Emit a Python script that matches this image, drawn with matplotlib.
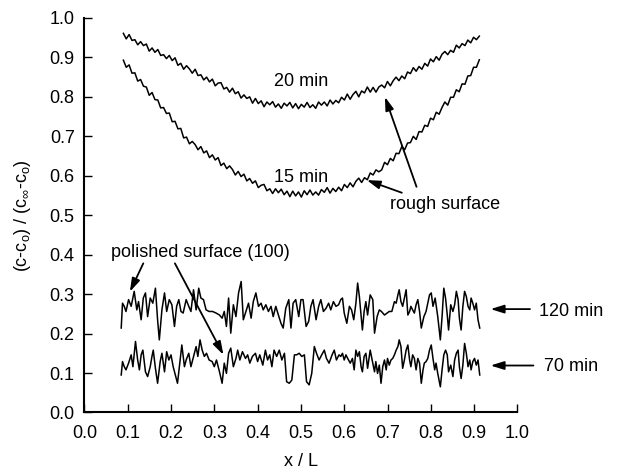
import numpy as np
import matplotlib
matplotlib.use("Agg")
import matplotlib.pyplot as plt

plt.rcParams['font.family'] = ['Liberation Sans', 'DejaVu Sans']
plt.rcParams['mathtext.fontset'] = 'custom'
plt.rcParams['mathtext.rm'] = 'Liberation Sans'
plt.rcParams['mathtext.it'] = 'Liberation Sans:italic'

# ---------------- data ----------------
x_rough = np.linspace(0.09, 0.912, 125)

y_20min = [
    .961, .947, .958, .943, .945, .932, .940, .930, .934, .916, .924, .913, .920, .905, .907,
    .897, .905, .892, .899, .880, .885, .870, .879, .871, .860, .870, .854, .856, .843, .850,
    .838, .845, .828, .835, .836, .820, .824, .812, .822, .808, .813, .797, .805, .796, .800,
    .784, .796, .783, .790, .775, .787, .780, .788, .774, .782, .771, .784, .777, .786, .772,
    .783, .770, .781, .774, .786, .773, .780, .771, .787, .779, .787, .777, .792, .782, .791,
    .785, .799, .792, .807, .794, .806, .814, .800, .815, .810, .825, .812, .824, .812, .825,
    .830, .823, .839, .828, .841, .850, .841, .853, .846, .863, .859, .874, .865, .877, .870,
    .885, .878, .896, .889, .902, .893, .908, .915, .907, .918, .913, .931, .924, .935, .930,
    .944, .937, .951, .945, .954]

y_15min = [
    .893, .875, .881, .860, .861, .840, .844, .827, .825, .804, .811, .793, .792, .772, .773,
    .758, .759, .737, .738, .719, .720, .696, .698, .681, .687, .679, .666, .674, .658, .663,
    .646, .653, .640, .646, .626, .632, .618, .625, .616, .602, .611, .598, .604, .587, .593,
    .581, .587, .570, .576, .578, .562, .567, .555, .567, .557, .566, .552, .561, .547, .561,
    .549, .559, .546, .562, .552, .564, .551, .559, .551, .565, .558, .570, .556, .568, .560,
    .571, .562, .578, .570, .582, .572, .586, .594, .583, .595, .590, .607, .602, .615, .610,
    .615, .634, .628, .644, .638, .657, .656, .674, .666, .683, .684, .700, .692, .712, .711,
    .728, .725, .746, .742, .761, .756, .773, .787, .779, .799, .799, .818, .813, .833, .832,
    .853, .854, .875, .875, .894]

x_120min = [
    0.085, 0.088, 0.092, 0.096, 0.102, 0.108, 0.112, 0.115, 0.121, 0.125, 0.131, 0.136, 0.141,
    0.146, 0.152, 0.158, 0.164, 0.169, 0.173, 0.179, 0.185, 0.190, 0.196, 0.202, 0.208, 0.213,
    0.218, 0.223, 0.228, 0.235, 0.241, 0.246, 0.252, 0.258, 0.264, 0.269, 0.275, 0.281, 0.288,
    0.296, 0.304, 0.312, 0.318, 0.323, 0.328, 0.333, 0.338, 0.344, 0.350, 0.356, 0.362, 0.367,
    0.373, 0.379, 0.385, 0.390, 0.396, 0.402, 0.408, 0.413, 0.419, 0.425, 0.431, 0.436, 0.442,
    0.448, 0.454, 0.459, 0.465, 0.472, 0.477, 0.482, 0.488, 0.495, 0.500, 0.505, 0.512, 0.518,
    0.523, 0.528, 0.535, 0.541, 0.546, 0.552, 0.558, 0.564, 0.569, 0.575, 0.581, 0.587, 0.592,
    0.596, 0.600, 0.606, 0.612, 0.617, 0.622, 0.627, 0.631, 0.635, 0.639, 0.642, 0.646, 0.650,
    0.654, 0.660, 0.666, 0.670, 0.676, 0.681, 0.686, 0.693, 0.699, 0.704, 0.710, 0.716, 0.720,
    0.724, 0.727, 0.731, 0.735, 0.739, 0.743, 0.747, 0.751, 0.754, 0.758, 0.762, 0.766, 0.770,
    0.774, 0.778, 0.784, 0.789, 0.793, 0.797, 0.801, 0.805, 0.810, 0.816, 0.822, 0.826, 0.830,
    0.834, 0.838, 0.841, 0.846, 0.851, 0.855, 0.859, 0.863, 0.866, 0.870, 0.874, 0.878, 0.882,
    0.886, 0.890, 0.893, 0.897, 0.901, 0.905, 0.909, 0.913]
y_120min = [
    0.214, 0.277, 0.269, 0.256, 0.286, 0.269, 0.290, 0.307, 0.260, 0.281, 0.235, 0.290, 0.303,
    0.243, 0.290, 0.277, 0.315, 0.235, 0.184, 0.260, 0.303, 0.256, 0.286, 0.273, 0.218, 0.269,
    0.286, 0.256, 0.252, 0.286, 0.269, 0.256, 0.311, 0.260, 0.315, 0.290, 0.286, 0.260, 0.256,
    0.256, 0.252, 0.247, 0.239, 0.256, 0.218, 0.290, 0.201, 0.273, 0.243, 0.303, 0.332, 0.235,
    0.256, 0.277, 0.239, 0.281, 0.303, 0.269, 0.277, 0.260, 0.273, 0.256, 0.269, 0.243, 0.269,
    0.247, 0.226, 0.214, 0.264, 0.286, 0.214, 0.277, 0.286, 0.243, 0.286, 0.286, 0.218, 0.231,
    0.269, 0.286, 0.235, 0.269, 0.286, 0.256, 0.264, 0.277, 0.260, 0.281, 0.269, 0.273, 0.286,
    0.290, 0.252, 0.226, 0.269, 0.260, 0.235, 0.277, 0.328, 0.294, 0.247, 0.209, 0.256, 0.281,
    0.247, 0.298, 0.286, 0.201, 0.243, 0.260, 0.256, 0.247, 0.252, 0.256, 0.256, 0.281, 0.277,
    0.298, 0.311, 0.281, 0.269, 0.290, 0.311, 0.247, 0.256, 0.269, 0.260, 0.252, 0.273, 0.286,
    0.256, 0.214, 0.243, 0.256, 0.277, 0.298, 0.303, 0.269, 0.290, 0.243, 0.184, 0.243, 0.315,
    0.290, 0.247, 0.209, 0.273, 0.256, 0.273, 0.307, 0.286, 0.239, 0.209, 0.269, 0.307, 0.294,
    0.269, 0.260, 0.290, 0.277, 0.260, 0.277, 0.235, 0.214]

x_70min = [
    0.085, 0.088, 0.092, 0.096, 0.102, 0.108, 0.112, 0.118, 0.123, 0.127, 0.131, 0.135, 0.141,
    0.146, 0.152, 0.156, 0.159, 0.164, 0.169, 0.175, 0.179, 0.185, 0.190, 0.195, 0.200, 0.205,
    0.210, 0.215, 0.221, 0.225, 0.231, 0.235, 0.241, 0.246, 0.252, 0.258, 0.262, 0.267, 0.272,
    0.277, 0.282, 0.288, 0.295, 0.300, 0.305, 0.312, 0.318, 0.323, 0.328, 0.333, 0.338, 0.344,
    0.350, 0.354, 0.359, 0.365, 0.372, 0.377, 0.382, 0.388, 0.395, 0.400, 0.405, 0.412, 0.418,
    0.423, 0.428, 0.433, 0.438, 0.444, 0.450, 0.456, 0.462, 0.467, 0.473, 0.479, 0.485, 0.490,
    0.496, 0.502, 0.508, 0.513, 0.519, 0.525, 0.531, 0.536, 0.542, 0.548, 0.554, 0.559, 0.565,
    0.572, 0.577, 0.582, 0.588, 0.592, 0.596, 0.600, 0.604, 0.608, 0.614, 0.619, 0.623, 0.627,
    0.631, 0.635, 0.639, 0.642, 0.646, 0.650, 0.654, 0.660, 0.666, 0.670, 0.673, 0.677, 0.681,
    0.685, 0.689, 0.693, 0.697, 0.700, 0.704, 0.708, 0.712, 0.716, 0.720, 0.724, 0.727, 0.731,
    0.735, 0.739, 0.743, 0.747, 0.751, 0.754, 0.758, 0.762, 0.766, 0.770, 0.774, 0.778, 0.782,
    0.785, 0.789, 0.793, 0.797, 0.801, 0.805, 0.809, 0.812, 0.816, 0.822, 0.826, 0.830, 0.834,
    0.838, 0.841, 0.846, 0.851, 0.855, 0.859, 0.863, 0.866, 0.870, 0.874, 0.878, 0.882, 0.886,
    0.890, 0.893, 0.897, 0.901, 0.905, 0.909, 0.913]
y_70min = [
    0.095, 0.129, 0.116, 0.108, 0.125, 0.146, 0.116, 0.180, 0.133, 0.108, 0.146, 0.158, 0.103,
    0.091, 0.116, 0.142, 0.158, 0.112, 0.074, 0.129, 0.150, 0.103, 0.154, 0.133, 0.146, 0.116,
    0.095, 0.074, 0.133, 0.171, 0.116, 0.133, 0.150, 0.116, 0.142, 0.167, 0.142, 0.184, 0.158,
    0.142, 0.150, 0.133, 0.129, 0.116, 0.133, 0.103, 0.074, 0.125, 0.099, 0.150, 0.163, 0.116,
    0.137, 0.158, 0.133, 0.154, 0.137, 0.146, 0.125, 0.142, 0.150, 0.129, 0.146, 0.120, 0.158,
    0.133, 0.146, 0.116, 0.158, 0.142, 0.158, 0.133, 0.150, 0.078, 0.074, 0.082, 0.146, 0.146,
    0.150, 0.142, 0.146, 0.078, 0.070, 0.099, 0.167, 0.150, 0.133, 0.146, 0.158, 0.137, 0.125,
    0.146, 0.158, 0.133, 0.146, 0.142, 0.150, 0.133, 0.146, 0.137, 0.125, 0.137, 0.108, 0.158,
    0.142, 0.154, 0.116, 0.103, 0.142, 0.150, 0.112, 0.158, 0.125, 0.103, 0.129, 0.099, 0.120,
    0.074, 0.116, 0.133, 0.108, 0.137, 0.120, 0.133, 0.137, 0.146, 0.158, 0.167, 0.184, 0.167,
    0.112, 0.133, 0.158, 0.171, 0.133, 0.116, 0.146, 0.137, 0.108, 0.137, 0.125, 0.074, 0.108,
    0.125, 0.129, 0.137, 0.158, 0.171, 0.137, 0.108, 0.125, 0.099, 0.065, 0.108, 0.146, 0.158,
    0.146, 0.103, 0.120, 0.091, 0.133, 0.150, 0.158, 0.116, 0.086, 0.120, 0.175, 0.150, 0.116,
    0.133, 0.108, 0.129, 0.137, 0.120, 0.133, 0.095]

x_ticks = [0.0, 0.1, 0.2, 0.3, 0.4, 0.5, 0.6, 0.7, 0.8, 0.9, 1.0]
y_ticks = [0.0, 0.1, 0.2, 0.3, 0.4, 0.5, 0.6, 0.7, 0.8, 0.9, 1.0]

# ---------------- figure ----------------
fig = plt.figure(figsize=(6.17, 4.73), dpi=100)
ax = fig.add_axes([0.1368, 0.128, 0.7018, 0.834])

lw = 1.1
ax.plot(x_rough, y_20min, color='black', lw=lw)
ax.plot(x_rough, y_15min, color='black', lw=lw)
ax.plot(x_120min, y_120min, color='black', lw=lw)
ax.plot(x_70min, y_70min, color='black', lw=lw)

ax.set_xlim(0, 1.0)
ax.set_ylim(0, 1.0)
ax.set_xticks(x_ticks)
ax.set_yticks(y_ticks)
ax.set_xticklabels([f"{v:.1f}" for v in x_ticks])
ax.set_yticklabels([f"{v:.1f}" for v in y_ticks])
for s in ['top', 'right']:
    ax.spines[s].set_visible(False)
for s in ['left', 'bottom']:
    ax.spines[s].set_linewidth(1.5)
fs = 13
ax.tick_params(axis='both', direction='in', length=6, width=1.0, labelsize=fs)
ax.tick_params(axis='x', pad=9)
ax.tick_params(axis='y', pad=7)

ax.set_xlabel('x / L', fontsize=fs, labelpad=8)
ax.set_ylabel(r'(c-c$_\mathrm{o}$) / (c$_\infty$-c$_\mathrm{o}$)', fontsize=fs, labelpad=12)

ax.text(0.50, 0.840, '20 min', fontsize=fs, ha='center', va='center')
ax.text(0.50, 0.595, '15 min', fontsize=fs, ha='center', va='center')
ax.text(0.833, 0.528, 'rough surface', fontsize=fs, ha='center', va='center')
ax.text(0.267, 0.405, 'polished surface (100)', fontsize=fs, ha='center', va='center')
ax.text(1.124, 0.257, '120 min', fontsize=fs, ha='center', va='center', clip_on=False)
ax.text(1.124, 0.116, '70 min', fontsize=fs, ha='center', va='center', clip_on=False)

aprops = dict(arrowstyle='-|>,head_length=0.8,head_width=0.25', color='black', lw=1.3,
              shrinkA=0, shrinkB=0)
arrows = [
    ((0.694, 0.800), (0.767, 0.572)),
    ((0.652, 0.589), (0.733, 0.557)),
    ((0.105, 0.306), (0.136, 0.378)),
    ((0.321, 0.146), (0.209, 0.378)),
    ((0.938, 0.262), (1.029, 0.262)),
    ((0.938, 0.119), (1.037, 0.119)),
]
for tip, tail in arrows:
    ax.annotate('', xy=tip, xytext=tail, arrowprops=aprops, annotation_clip=False)

fig.savefig('out.png', dpi=100)
